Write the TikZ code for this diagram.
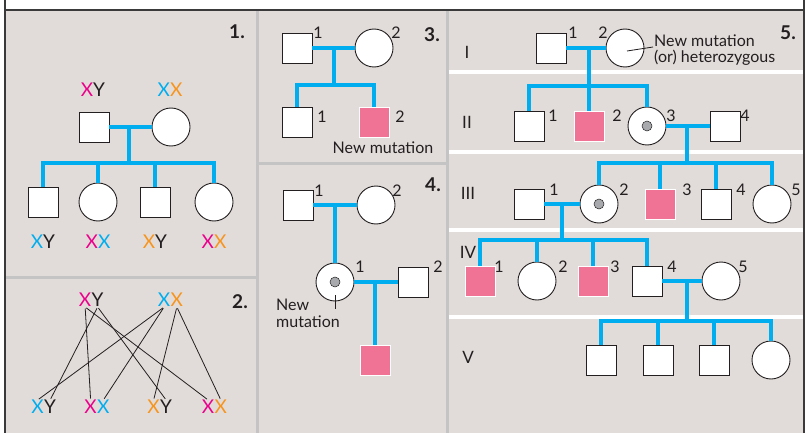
\documentclass[tikz,border=0pt]{standalone}
\usepackage{fontspec}
\setmainfont{Lato}
\usetikzlibrary{calc}
\definecolor{bgc}{HTML}{E1DCD9}
\definecolor{bluec}{HTML}{00AEEF}
\definecolor{pinkc}{HTML}{F07396}
\definecolor{magc}{HTML}{EC008C}
\definecolor{cyac}{HTML}{00AEEF}
\definecolor{orac}{HTML}{F7941D}
\definecolor{dotc}{HTML}{A7A9AC}
\definecolor{sepc}{HTML}{C4C4C4}
\definecolor{darkc}{HTML}{3A3A3A}
\definecolor{inkc}{HTML}{231F20}
\begin{document}
\begin{tikzpicture}[x=1pt,y=-1pt,
  every node/.style={text=inkc},
  male/.style={draw=inkc, line width=0.9pt, fill=white, rectangle, minimum size=30pt, inner sep=0pt},
  female/.style={draw=inkc, line width=0.9pt, fill=white, circle, minimum size=38pt, inner sep=0pt},
  aff/.style={rectangle, fill=pinkc, draw=white, line width=0.6pt, minimum size=30pt, inner sep=0pt},
  carrier/.style={female, path picture={\fill[dotc, draw=inkc, line width=0.5pt] (path picture bounding box.center) circle (5pt);}},
  bl/.style={draw=bluec, line width=4pt, line join=miter},
  thinl/.style={draw=inkc, line width=0.8pt},
  num/.style={inner sep=0pt, font=\fontsize{16}{18}\selectfont},
  geno/.style={inner sep=0pt, font=\fontsize{19}{21}\selectfont},
  ptitle/.style={inner sep=0pt, font=\bfseries\fontsize{19}{21}\selectfont},
  roman/.style={inner sep=0pt, font=\fontsize{17}{19}\selectfont}
]
\useasboundingbox (0,0) rectangle (808,433);
\fill[white] (0,0) rectangle (808,433);
\fill[bgc] (5,10) rectangle (804,433);
% panel separators
\draw[sepc, line width=3pt] (257,11) -- (257,433);
\draw[sepc, line width=3pt] (447,11) -- (447,433);
\draw[sepc, line width=3pt] (6,277) -- (257,277);
\draw[sepc, line width=3pt] (257,163) -- (447,163);
% panel 5 row separators
\foreach \yy in {72,152,230,317} \draw[white, line width=4pt] (448.5,\yy) -- (803,\yy);
% borders
\draw[darkc, line width=1.5pt] (5,0) -- (5,433);
\draw[darkc, line width=1.5pt] (804,0) -- (804,433);
\draw[darkc, line width=2pt] (5,10) -- (804,10);

% ---------- Panel 1 ----------
\node[ptitle] (t1) at (237,32) {1.};
\node[geno] (g1f) at (93,90) {\textcolor{magc}{X}Y};
\node[geno] (g1m) at (170,90) {\textcolor{cyac}{X}\textcolor{orac}{X}};
\node[male] (p1f) at (94,127) {};
\node[female] (p1m) at (171,127) {};
\coordinate (p1j) at (129,127);
\coordinate (p1s) at (129,163);
\node[male] (p1c1) at (43,202) {};
\node[female] (p1c2) at (98,202) {};
\node[male] (p1c3) at (155,202) {};
\node[female] (p1c4) at (214,202) {};
\draw[bl] (p1f) -- (p1m);
\draw[bl] (p1j) -- (p1s);
\draw[bl] (p1c1.north) |- (p1s) -| (p1c4.north);
\draw[bl] (p1c2.north) -- (p1c2.north |- p1s);
\draw[bl] (p1c3.north) -- (p1c3.north |- p1s);
\node[geno] (g1c1) at (43,242) {\textcolor{cyac}{X}Y};
\node[geno] (g1c2) at (98,242) {\textcolor{magc}{X}\textcolor{cyac}{X}};
\node[geno] (g1c3) at (155,242) {\textcolor{orac}{X}Y};
\node[geno] (g1c4) at (214,242) {\textcolor{magc}{X}\textcolor{orac}{X}};

% ---------- Panel 2 ----------
\node[ptitle] (t2) at (240,302) {2.};
\node[geno, anchor=east] (q1) at (91.5,300) {\textcolor{magc}{X}};
\node[geno, anchor=west] (q2) at (91.5,300) {Y};
\node[geno, anchor=east] (q3) at (170.5,300) {\textcolor{cyac}{X}};
\node[geno, anchor=west] (q4) at (170.5,300) {\textcolor{orac}{X}};
\node[geno, anchor=east] (b1a) at (44,407) {\textcolor{cyac}{X}};
\node[geno, anchor=west] (b1b) at (44,407) {Y};
\node[geno, anchor=east] (b2a) at (97,407) {\textcolor{magc}{X}};
\node[geno, anchor=west] (b2b) at (97,407) {\textcolor{cyac}{X}};
\node[geno, anchor=east] (b3a) at (160,407) {\textcolor{orac}{X}};
\node[geno, anchor=west] (b3b) at (160,407) {Y};
\node[geno, anchor=east] (b4a) at (214.5,407) {\textcolor{magc}{X}};
\node[geno, anchor=west] (b4b) at (214.5,407) {\textcolor{orac}{X}};
\draw[thinl, shorten <=1.5pt, shorten >=1.5pt] (q1.south) -- (b2a.north);
\draw[thinl, shorten <=1.5pt, shorten >=1.5pt] (q1.south) -- (b4a.north);
\draw[thinl, shorten <=1.5pt, shorten >=1.5pt] (q2.south) -- (b1b.north);
\draw[thinl, shorten <=1.5pt, shorten >=1.5pt] (q2.south) -- (b3b.north);
\draw[thinl, shorten <=1.5pt, shorten >=1.5pt] (q3.south) -- (b1a.north);
\draw[thinl, shorten <=1.5pt, shorten >=1.5pt] (q3.south) -- (b2b.north);
\draw[thinl, shorten <=1.5pt, shorten >=1.5pt] (q4.south) -- (b3a.north);
\draw[thinl, shorten <=1.5pt, shorten >=1.5pt] (q4.south) -- (b4b.north);

% ---------- Panel 3 ----------
\node[ptitle] (t3) at (432,35) {3.};
\node[male] (p3f) at (297,48) {};
\node[female] (p3m) at (374,48) {};
\node[num] (n3f) at (318,33) {1};
\node[num] (n3m) at (396,33) {2};
\coordinate (p3j) at (334,48);
\coordinate (p3s) at (334,85);
\node[male] (p3c1) at (297,122) {};
\node[aff] (p3c2) at (374,122) {};
\node[num] (n3c1) at (322,117) {1};
\node[num] (n3c2) at (400,117) {2};
\node[num] (nm3) at (383,148) {New mutation};
\draw[bl] (p3f) -- (p3m);
\draw[bl] (p3j) -- (p3s);
\draw[bl] (p3c1.north) |- (p3s) -| (p3c2.north);

% ---------- Panel 4 ----------
\node[ptitle] (t4) at (433,185) {4.};
\node[male] (p4f) at (298,205) {};
\node[female] (p4m) at (376,205) {};
\node[num] (n4f) at (319,191) {1};
\node[num] (n4m) at (397,191) {2};
\coordinate (p4j) at (335,205);
\node[carrier] (p4c) at (335,282) {};
\node[num] (n4c) at (360,267) {1};
\node[male] (p4h) at (413,282) {};
\node[num] (n4h) at (438,267) {2};
\coordinate (p4j2) at (375,282);
\node[aff] (p4a) at (375,360) {};
\coordinate (p4p) at (335,309);
\node[num, align=left, anchor=west, font=\fontsize{16}{17}\selectfont] (nm4) at (276,313) {New\\mutation};
\draw[bl] (p4f) -- (p4m);
\draw[bl] (p4j) -- (p4c);
\draw[bl] (p4c) -- (p4h);
\draw[bl] (p4j2) -- (p4a);
\draw[thinl] ($(p4c.center)+(0,13)$) -- (p4p);

% ---------- Panel 5 ----------
\node[ptitle] (t5) at (788,33) {5.};
\node[roman] (rI) at (467,52) {I};
\node[roman] (rII) at (467,122) {II};
\node[roman] (rIII) at (468,193) {III};
\node[roman] (rIV) at (468,252) {IV};
\node[roman] (rV) at (468,357) {V};
% gen I
\node[male] (I1) at (551,48) {};
\node[female] (I2) at (625,48) {};
\node[num] (nI1) at (573,33) {1};
\node[num] (nI2) at (603,33) {2};
\coordinate (pI) at (653,47);
\node[num, align=left, anchor=west, font=\fontsize{16}{15.5}\selectfont] (nmI) at (654,50) {New mutation\\(or) heterozygous};
\draw[thinl] ($(I2.center)+(2,3)$) -- (pI);
\coordinate (jI) at (589,48);
% gen II
\node[male] (II1) at (529,126) {};
\node[aff] (II2) at (589,126) {};
\node[carrier] (II3) at (647,126) {};
\node[male] (II4) at (725,126) {};
\node[num] (nII1) at (553,116) {1};
\node[num] (nII2) at (617,116) {2};
\node[num] (nII3) at (671,116) {3};
\node[num] (nII4) at (745,116) {4};
\coordinate (sI) at (589,86);
\draw[bl] (I1) -- (I2);
\draw[bl] (jI) -- (II2);
\draw[bl] (II1.north) |- (sI) -| (II3.north);
\coordinate (jII) at (687,126);
\coordinate (sII) at (687,163);
\draw[bl] (II3) -- (II4);
\draw[bl] (jII) -- (sII);
% gen III
\node[male] (III1) at (529,204) {};
\node[carrier] (III2) at (599,204) {};
\node[aff] (III3) at (660,204) {};
\node[male] (III4) at (716,204) {};
\node[female] (III5) at (772,204) {};
\node[num] (nIII1) at (554,190) {1};
\node[num] (nIII2) at (624,190) {2};
\node[num] (nIII3) at (687,190) {3};
\node[num] (nIII4) at (741,190) {4};
\node[num] (nIII5) at (796,190) {5};
\draw[bl] (III2.north) |- (sII) -| (III5.north);
\draw[bl] (III3.north) -- (III3.north |- sII);
\draw[bl] (III4.north) -- (III4.north |- sII);
\coordinate (jIII) at (562,204);
\coordinate (sIII) at (562,240);
\draw[bl] (III1) -- (III2);
\draw[bl] (jIII) -- (sIII);
% gen IV
\node[aff] (IV1) at (480,281) {};
\node[female] (IV2) at (537,281) {};
\node[aff] (IV3) at (593,281) {};
\node[male] (IV4) at (647,281) {};
\node[female] (IV5) at (721,281) {};
\node[num] (nIV1) at (499,267) {1};
\node[num] (nIV2) at (563,267) {2};
\node[num] (nIV3) at (615,267) {3};
\node[num] (nIV4) at (672,267) {4};
\node[num] (nIV5) at (743,267) {5};
\draw[bl] (IV1.north) |- (sIII) -| (IV4.north);
\draw[bl] (IV2.north) -- (IV2.north |- sIII);
\draw[bl] (IV3.north) -- (IV3.north |- sIII);
\coordinate (jIV) at (687,281);
\coordinate (sIV) at (687,321);
\draw[bl] (IV4) -- (IV5);
\draw[bl] (jIV) -- (sIV);
% gen V
\node[male] (V1) at (601,360) {};
\node[male] (V2) at (658,360) {};
\node[male] (V3) at (714,360) {};
\node[female] (V4) at (771,360) {};
\draw[bl] (V1.north) |- (sIV) -| (V4.north);
\draw[bl] (V2.north) -- (V2.north |- sIV);
\draw[bl] (V3.north) -- (V3.north |- sIV);
\end{tikzpicture}
\end{document}
